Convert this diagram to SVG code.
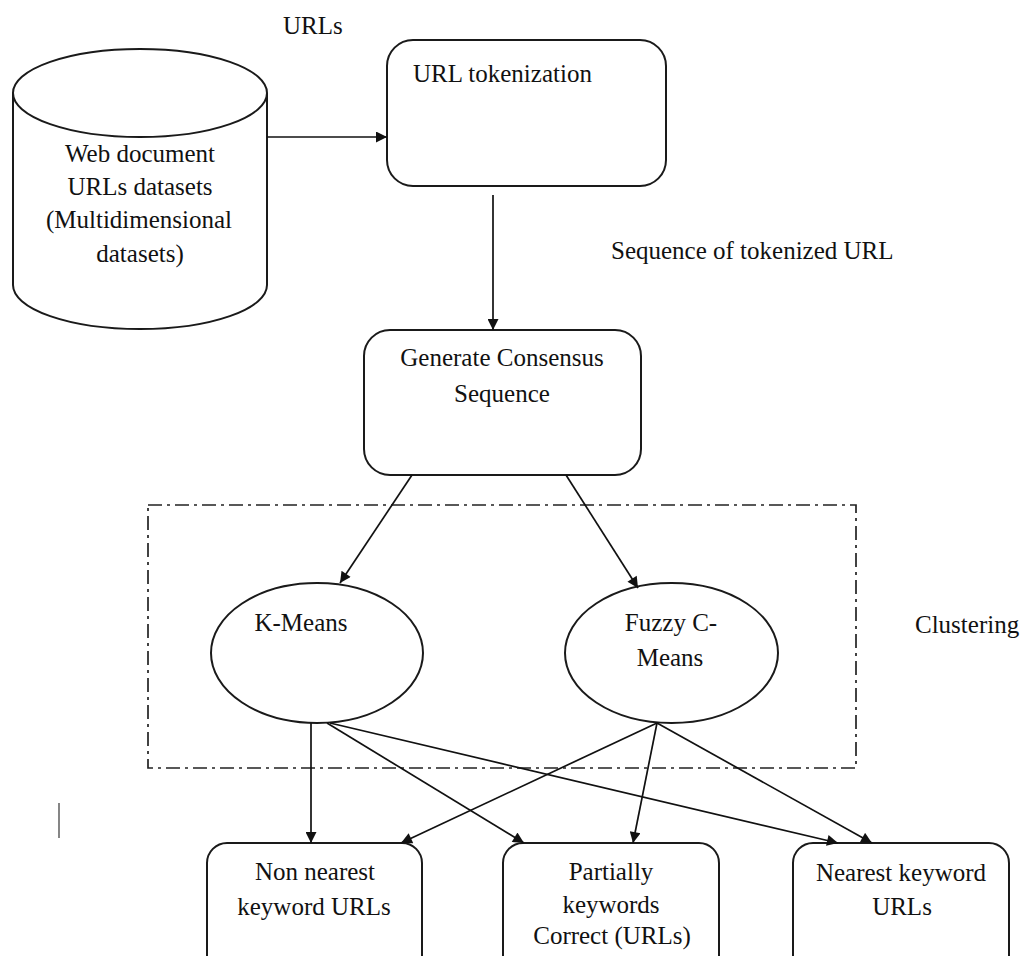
<svg xmlns="http://www.w3.org/2000/svg" width="1021" height="956" viewBox="0 0 1021 956">
<style>
  text { font-family: "Liberation Serif", Tinos, "Times New Roman", "Noto Serif", "DejaVu Serif", serif; font-size: 25px; fill: #111; }
  .c { text-anchor: middle; }
  .shape { fill: #fff; stroke: #1a1a1a; stroke-width: 2; }
  .edge { fill: none; stroke: #111; stroke-width: 1.7; }
  .group { fill: none; stroke: #222; stroke-width: 1.7; stroke-dasharray: 14 5 3 5; }
</style>
<defs>
  <marker id="arr" viewBox="0 0 10 10" refX="10" refY="5" markerWidth="13" markerHeight="11" markerUnits="userSpaceOnUse" orient="auto">
    <path d="M0,0 L10,5 L0,10 Z" fill="#111"/>
  </marker>
</defs>
<rect width="1021" height="956" fill="#fff"/>

<g id="clustering-group">
  <rect class="group" x="148" y="505" width="708" height="263"/>
  <text x="915" y="633">Clustering</text>
</g>

<g id="dataset">
  <path class="shape" d="M13,93 L13,285 A127,44 0 0 0 267,285 L267,93"/>
  <ellipse class="shape" cx="140" cy="93" rx="127" ry="44"/>
  <text class="c" x="140" y="162">Web document</text>
  <text class="c" x="140" y="195">URLs datasets</text>
  <text class="c" x="139" y="228">(Multidimensional</text>
  <text class="c" x="140" y="262">datasets)</text>
</g>

<g id="label-urls">
  <text x="283" y="34">URLs</text>
</g>

<g id="url-tokenization">
  <rect class="shape" x="387" y="40" width="279" height="146" rx="26" ry="26"/>
  <text x="413" y="82">URL tokenization</text>
</g>

<g id="label-sequence">
  <text x="611" y="259">Sequence of tokenized URL</text>
</g>

<g id="consensus">
  <rect class="shape" x="364" y="330" width="277" height="145" rx="26" ry="26"/>
  <text class="c" x="502" y="366">Generate Consensus</text>
  <text class="c" x="502" y="402">Sequence</text>
</g>

<g id="kmeans">
  <ellipse class="shape" cx="317" cy="653" rx="106" ry="70"/>
  <text class="c" x="301" y="631">K-Means</text>
</g>

<g id="fuzzy">
  <ellipse class="shape" cx="671.5" cy="653" rx="106.5" ry="70"/>
  <text class="c" x="671" y="631">Fuzzy C-</text>
  <text class="c" x="670" y="666">Means</text>
</g>

<g id="non-nearest">
  <rect class="shape" x="207" y="843" width="215" height="140" rx="20" ry="20"/>
  <text class="c" x="315" y="880">Non nearest</text>
  <text class="c" x="314" y="915">keyword URLs</text>
</g>

<g id="partially">
  <rect class="shape" x="503" y="843" width="216" height="140" rx="20" ry="20"/>
  <text class="c" x="611" y="880">Partially</text>
  <text class="c" x="611" y="913">keywords</text>
  <text class="c" x="612" y="944">Correct (URLs)</text>
</g>

<g id="nearest">
  <rect class="shape" x="793" y="843" width="216" height="140" rx="20" ry="20"/>
  <text class="c" x="901" y="881">Nearest keyword</text>
  <text class="c" x="902" y="915">URLs</text>
</g>

<g id="connectors">
  <line class="edge" x1="267" y1="137" x2="387" y2="137" marker-end="url(#arr)"/>
  <line class="edge" x1="493" y1="195" x2="493" y2="330" marker-end="url(#arr)"/>
  <line class="edge" x1="412" y1="475" x2="340" y2="583" marker-end="url(#arr)"/>
  <line class="edge" x1="566" y1="475" x2="638" y2="588" marker-end="url(#arr)"/>
  <line class="edge" x1="311" y1="723" x2="311" y2="843" marker-end="url(#arr)"/>
  <line class="edge" x1="327" y1="723" x2="524" y2="843" marker-end="url(#arr)"/>
  <line class="edge" x1="330" y1="723" x2="838" y2="843" marker-end="url(#arr)"/>
  <line class="edge" x1="657" y1="723" x2="401" y2="843" marker-end="url(#arr)"/>
  <line class="edge" x1="657" y1="723" x2="633" y2="843" marker-end="url(#arr)"/>
  <line class="edge" x1="657" y1="723" x2="872" y2="843" marker-end="url(#arr)"/>
</g>

<line x1="59" y1="803" x2="59" y2="838" stroke="#444" stroke-width="1.3"/>
</svg>
